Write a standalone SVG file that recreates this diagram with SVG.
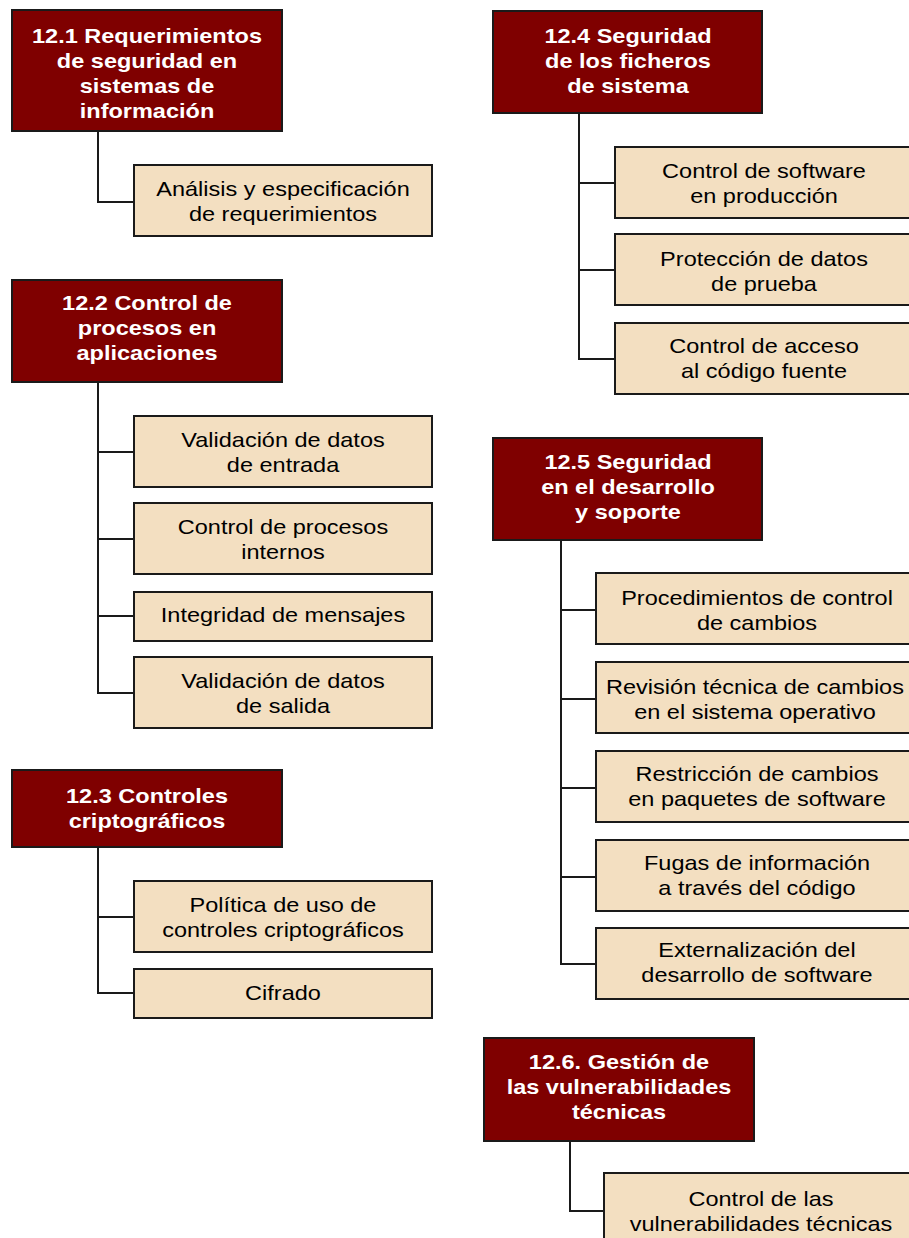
<svg xmlns="http://www.w3.org/2000/svg" width="909" height="1238" viewBox="0 0 909 1238">
  <style>
    .hdr { fill: #7f0000; stroke: #1a1a1a; stroke-width: 2; }
    .item { fill: #f3dfc1; stroke: #1a1a1a; stroke-width: 2; }
    .ht { font-family: "Liberation Sans", Arial, sans-serif; font-size: 21px; font-weight: bold; fill: #ffffff; text-anchor: middle; }
    .it { font-family: "Liberation Sans", Arial, sans-serif; font-size: 21px; fill: #000000; text-anchor: middle; }
    .conn path { fill: none; stroke: #1a1a1a; stroke-width: 2; }
  </style>
  <rect width="909" height="1238" fill="#ffffff"/>

  <!-- connectors: trunk from each heading, branches to its items -->
  <g id="connectors" class="conn">
    <path d="M98 131 V202 H134"/>
    <path d="M98 382 V693 H134 M98 452 H134 M98 539 H134 M98 616 H134"/>
    <path d="M98 847 V993 H134 M98 917 H134"/>
    <path d="M579 113 V359 H615 M579 183 H615 M579 270 H615"/>
    <path d="M561 540 V964 H596 M561 610 H596 M561 699 H596 M561 788 H596 M561 877 H596"/>
    <path d="M570 1141 V1211 H604"/>
  </g>

  <!-- text lines use a slightly widened face: translate to centre/baseline, stretch x -->

  <!-- 12.1 -->
  <g id="n12_1">
    <rect class="hdr" x="12" y="10" width="270" height="121"/>
    <text class="ht" transform="translate(147 43) scale(1.12 1)">12.1 Requerimientos</text>
    <text class="ht" transform="translate(147 68) scale(1.12 1)">de seguridad en</text>
    <text class="ht" transform="translate(147 93) scale(1.12 1)">sistemas de</text>
    <text class="ht" transform="translate(147 118) scale(1.12 1)">información</text>
  </g>
  <g id="n12_1_a">
    <rect class="item" x="134" y="165" width="298" height="71"/>
    <text class="it" transform="translate(283 196) scale(1.12 1)">Análisis y especificación</text>
    <text class="it" transform="translate(283 221) scale(1.12 1)">de requerimientos</text>
  </g>

  <!-- 12.2 -->
  <g id="n12_2">
    <rect class="hdr" x="12" y="280" width="270" height="102"/>
    <text class="ht" transform="translate(147 310) scale(1.12 1)">12.2 Control de</text>
    <text class="ht" transform="translate(147 335) scale(1.12 1)">procesos en</text>
    <text class="ht" transform="translate(147 360) scale(1.12 1)">aplicaciones</text>
  </g>
  <g id="n12_2_a">
    <rect class="item" x="134" y="416" width="298" height="71"/>
    <text class="it" transform="translate(283 447) scale(1.12 1)">Validación de datos</text>
    <text class="it" transform="translate(283 472) scale(1.12 1)">de entrada</text>
  </g>
  <g id="n12_2_b">
    <rect class="item" x="134" y="503" width="298" height="71"/>
    <text class="it" transform="translate(283 534) scale(1.12 1)">Control de procesos</text>
    <text class="it" transform="translate(283 559) scale(1.12 1)">internos</text>
  </g>
  <g id="n12_2_c">
    <rect class="item" x="134" y="592" width="298" height="49"/>
    <text class="it" transform="translate(283 622) scale(1.12 1)">Integridad de mensajes</text>
  </g>
  <g id="n12_2_d">
    <rect class="item" x="134" y="657" width="298" height="71"/>
    <text class="it" transform="translate(283 688) scale(1.12 1)">Validación de datos</text>
    <text class="it" transform="translate(283 713) scale(1.12 1)">de salida</text>
  </g>

  <!-- 12.3 -->
  <g id="n12_3">
    <rect class="hdr" x="12" y="770" width="270" height="77"/>
    <text class="ht" transform="translate(147 803) scale(1.12 1)">12.3 Controles</text>
    <text class="ht" transform="translate(147 828) scale(1.12 1)">criptográficos</text>
  </g>
  <g id="n12_3_a">
    <rect class="item" x="134" y="881" width="298" height="71"/>
    <text class="it" transform="translate(283 912) scale(1.12 1)">Política de uso de</text>
    <text class="it" transform="translate(283 937) scale(1.12 1)">controles criptográficos</text>
  </g>
  <g id="n12_3_b">
    <rect class="item" x="134" y="969" width="298" height="49"/>
    <text class="it" transform="translate(283 1000) scale(1.12 1)">Cifrado</text>
  </g>

  <!-- 12.4 -->
  <g id="n12_4">
    <rect class="hdr" x="493" y="11" width="269" height="102"/>
    <text class="ht" transform="translate(628 43) scale(1.12 1)">12.4 Seguridad</text>
    <text class="ht" transform="translate(628 68) scale(1.12 1)">de los ficheros</text>
    <text class="ht" transform="translate(628 93) scale(1.12 1)">de sistema</text>
  </g>
  <g id="n12_4_a">
    <rect class="item" x="615" y="147" width="298" height="71"/>
    <text class="it" transform="translate(764 178) scale(1.12 1)">Control de software</text>
    <text class="it" transform="translate(764 203) scale(1.12 1)">en producción</text>
  </g>
  <g id="n12_4_b">
    <rect class="item" x="615" y="234" width="298" height="71"/>
    <text class="it" transform="translate(764 266) scale(1.12 1)">Protección de datos</text>
    <text class="it" transform="translate(764 291) scale(1.12 1)">de prueba</text>
  </g>
  <g id="n12_4_c">
    <rect class="item" x="615" y="323" width="298" height="71"/>
    <text class="it" transform="translate(764 353) scale(1.12 1)">Control de acceso</text>
    <text class="it" transform="translate(764 378) scale(1.12 1)">al código fuente</text>
  </g>

  <!-- 12.5 -->
  <g id="n12_5">
    <rect class="hdr" x="493" y="438" width="269" height="102"/>
    <text class="ht" transform="translate(628 469) scale(1.12 1)">12.5 Seguridad</text>
    <text class="ht" transform="translate(628 494) scale(1.12 1)">en el desarrollo</text>
    <text class="ht" transform="translate(628 519) scale(1.12 1)">y soporte</text>
  </g>
  <g id="n12_5_a">
    <rect class="item" x="596" y="573" width="318" height="71"/>
    <text class="it" transform="translate(757 605) scale(1.12 1)">Procedimientos de control</text>
    <text class="it" transform="translate(757 630) scale(1.12 1)">de cambios</text>
  </g>
  <g id="n12_5_b">
    <rect class="item" x="596" y="662" width="318" height="71"/>
    <text class="it" transform="translate(755 694) scale(1.12 1)">Revisión técnica de cambios</text>
    <text class="it" transform="translate(755 719) scale(1.12 1)">en el sistema operativo</text>
  </g>
  <g id="n12_5_c">
    <rect class="item" x="596" y="751" width="318" height="71"/>
    <text class="it" transform="translate(757 781) scale(1.12 1)">Restricción de cambios</text>
    <text class="it" transform="translate(757 806) scale(1.12 1)">en paquetes de software</text>
  </g>
  <g id="n12_5_d">
    <rect class="item" x="596" y="840" width="318" height="71"/>
    <text class="it" transform="translate(757 870) scale(1.12 1)">Fugas de información</text>
    <text class="it" transform="translate(757 895) scale(1.12 1)">a través del código</text>
  </g>
  <g id="n12_5_e">
    <rect class="item" x="596" y="928" width="318" height="71"/>
    <text class="it" transform="translate(757 957) scale(1.12 1)">Externalización del</text>
    <text class="it" transform="translate(757 982) scale(1.12 1)">desarrollo de software</text>
  </g>

  <!-- 12.6 -->
  <g id="n12_6">
    <rect class="hdr" x="484" y="1038" width="270" height="103"/>
    <text class="ht" transform="translate(619 1069) scale(1.12 1)">12.6. Gestión de</text>
    <text class="ht" transform="translate(619 1094) scale(1.12 1)">las vulnerabilidades</text>
    <text class="ht" transform="translate(619 1119) scale(1.12 1)">técnicas</text>
  </g>
  <g id="n12_6_a">
    <rect class="item" x="604" y="1173" width="318" height="80"/>
    <text class="it" transform="translate(761 1206) scale(1.12 1)">Control de las</text>
    <text class="it" transform="translate(761 1231) scale(1.12 1)">vulnerabilidades técnicas</text>
  </g>
</svg>
